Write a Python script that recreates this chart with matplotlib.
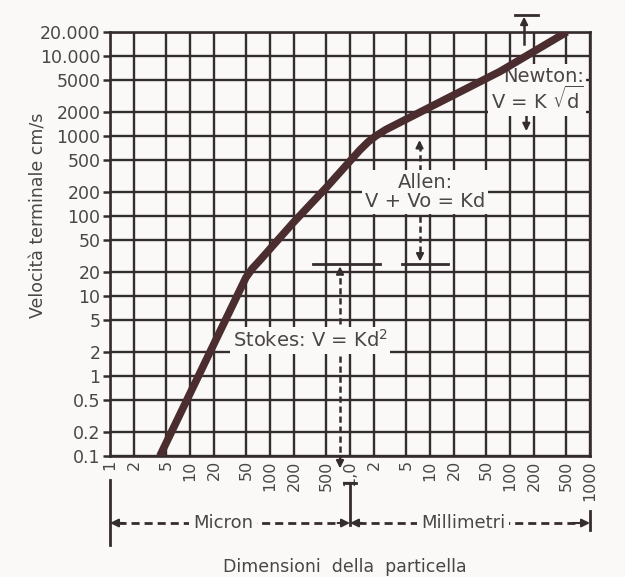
import matplotlib
matplotlib.use("Agg")
import matplotlib.pyplot as plt
from matplotlib.ticker import NullLocator

# Particle size axis (micron) and terminal velocity axis (cm/s)
size_ticks = [1, 2, 5, 10, 20, 50, 100, 200, 500,
              1e3, 2e3, 5e3, 1e4, 2e4, 5e4, 1e5, 2e5, 5e5, 1e6]
size_labels = ["1", "2", "5", "10", "20", "50", "100", "200", "500",
               "1,0", "2", "5", "10", "20", "50", "100", "200", "500", "1000"]
vel_ticks = [0.1, 0.2, 0.5, 1, 2, 5, 10, 20, 50, 100, 200, 500,
             1000, 2000, 5000, 10000, 20000]
vel_labels = ["0.1", "0.2", "0.5", "1", "2", "5", "10", "20", "50", "100",
              "200", "500", "1000", "2000", "5000", "10.000", "20.000"]

# Terminal velocity curve (Stokes -> Allen -> Newton)
curve_size = [4.2, 50, 60, 75, 194, 516, 1333, 1700, 2100, 2800,
              10900, 75000, 515000]
curve_vel = [0.1, 17, 22, 28, 82, 232, 670, 850, 1000, 1200,
             2400, 6400, 20000]

BG = "#faf9f7"
GRID = "#352c2d"
TEXT = "#4b4646"
CURVE = "#4b2c2f"

fig = plt.figure(figsize=(6.25, 5.77), dpi=100, facecolor=BG)
ax = fig.add_axes([0.176, 0.2097, 0.768, 0.735], facecolor=BG)
ax.set_xscale("log")
ax.set_yscale("log")
ax.set_xlim(1, 1e6)
ax.set_ylim(0.1, 20000)

ax.set_xticks(size_ticks)
ax.set_xticklabels(size_labels, rotation=90, fontsize=11.5, color=TEXT)
ax.set_yticks(vel_ticks)
ax.set_yticklabels(vel_labels, fontsize=12.5, color=TEXT)
ax.xaxis.set_minor_locator(NullLocator())
ax.yaxis.set_minor_locator(NullLocator())
ax.tick_params(axis="x", length=0, pad=3)
ax.tick_params(axis="y", length=5, width=1.8, color=GRID, pad=2)
ax.set_axisbelow(True)
ax.grid(True, color=GRID, lw=1.7)
for sp in ax.spines.values():
    sp.set_color(GRID)
    sp.set_linewidth(1.9)

ax.plot(curve_size, curve_vel, color=CURVE, lw=5.5,
        solid_capstyle="butt", solid_joinstyle="round", zorder=5)

ax.set_ylabel("Velocità terminale cm/s", fontsize=12.5, color=TEXT)
ax.yaxis.set_label_coords(-0.13, 0.568)
ax.text(0.49, -0.262, "Dimensioni  della  particella", transform=ax.transAxes,
        ha="center", va="center", fontsize=12.5, color=TEXT)

box = dict(facecolor=BG, edgecolor="none", pad=2)


def head(x, y0, y1, trans=None):
    # arrowhead pointing from y0 towards y1
    ax.annotate("", xy=(x, y1), xytext=(x, y0),
                xycoords=trans or "data", textcoords=trans or "data",
                arrowprops=dict(arrowstyle="-|>", color=GRID, lw=1.5,
                                mutation_scale=11, shrinkA=0, shrinkB=0),
                annotation_clip=False, zorder=6)


def hhead(x0, x1, y):
    tr = ax.get_xaxis_transform()
    ax.annotate("", xy=(x1, y), xytext=(x0, y), xycoords=tr, textcoords=tr,
                arrowprops=dict(arrowstyle="-|>", color=GRID, lw=1.5,
                                mutation_scale=12, shrinkA=0, shrinkB=0),
                annotation_clip=False, zorder=6)


# Newton range
ax.plot([1.15e5, 2.25e5], [32600, 32600], color=GRID, lw=2, clip_on=False)
ax.plot([1.5e5, 1.5e5], [14000, 26000], color=GRID, lw=1.8, clip_on=False)
head(1.5e5, 24000, 31000)
ax.text(8.3e5, 3770, "Newton:\nV = K $\\sqrt{\\mathrm{d}}$", ha="right",
        va="center", multialignment="right", fontsize=14, color=TEXT,
        bbox=box, zorder=4, linespacing=1.0)
ax.plot([1.6e5, 1.6e5], [2000, 1400], color=GRID, lw=1.8)
head(1.6e5, 1400, 1150)

# Allen range
ax.text(8700, 200, "Allen:\nV + Vo = Kd", ha="center", va="center",
        multialignment="center", fontsize=14, color=TEXT, bbox=box,
        zorder=4, linespacing=1.05)
ax.plot([7400, 7400], [360, 760], color=GRID, lw=1.8, ls=(0, (2.5, 1.5)))
head(7400, 700, 890)
ax.plot([7500, 7500], [100, 33], color=GRID, lw=1.8, ls=(0, (2.5, 1.5)))
head(7500, 34, 27)
ax.plot([4460, 16800], [25.3, 25.3], color=GRID, lw=2)

# Stokes range
ax.plot([346, 2370], [25, 25], color=GRID, lw=2)
head(750, 19, 23.5)
ax.plot([750, 750], [4.5, 19], color=GRID, lw=1.8, ls=(0, (2.5, 1.5)))
ax.text(316, 2.8, "Stokes: V = Kd$^2$", ha="center", va="center",
        fontsize=14, color=TEXT, bbox=box, zorder=4)
ax.plot([750, 750], [1.8, 0.095], color=GRID, lw=1.8, ls=(0, (2.5, 1.5)),
        clip_on=False)
head(750, 0.095, 0.07)

# Micron / Millimetri scale under the axis
tr = ax.get_xaxis_transform()
row = -0.158
ax.plot([1.25, 800], [row, row], transform=tr, color=GRID, lw=2,
        dashes=(2.9, 1.8), clip_on=False)
ax.plot([1250, 8e5], [row, row], transform=tr, color=GRID, lw=2,
        dashes=(2.9, 1.8), clip_on=False)
hhead(1.5, 1, row)
hhead(700, 1000, row)
hhead(1400, 1000, row)
hhead(6e5, 1e6, row)
ax.plot([1, 1], [-0.057, -0.21], transform=tr, color=GRID, lw=2, clip_on=False)
ax.plot([1000, 1000], [-0.064, -0.163], transform=tr, color=GRID, lw=2,
        clip_on=False)
ax.plot([840, 1190], [-0.064, -0.064], transform=tr, color=GRID, lw=2,
        clip_on=False)
ax.plot([1e6, 1e6], [-0.13, -0.175], transform=tr, color=GRID, lw=2,
        clip_on=False)
ax.text(26, row, "Micron", transform=tr, ha="center", va="center",
        fontsize=13, color=TEXT, bbox=dict(facecolor=BG, edgecolor="none",
                                           pad=3), zorder=7)
ax.text(25900, row, "Millimetri", transform=tr, ha="center", va="center",
        fontsize=13, color=TEXT, bbox=dict(facecolor=BG, edgecolor="none",
                                           pad=3), zorder=7)

fig.savefig("out.png", dpi=100, facecolor=BG)
